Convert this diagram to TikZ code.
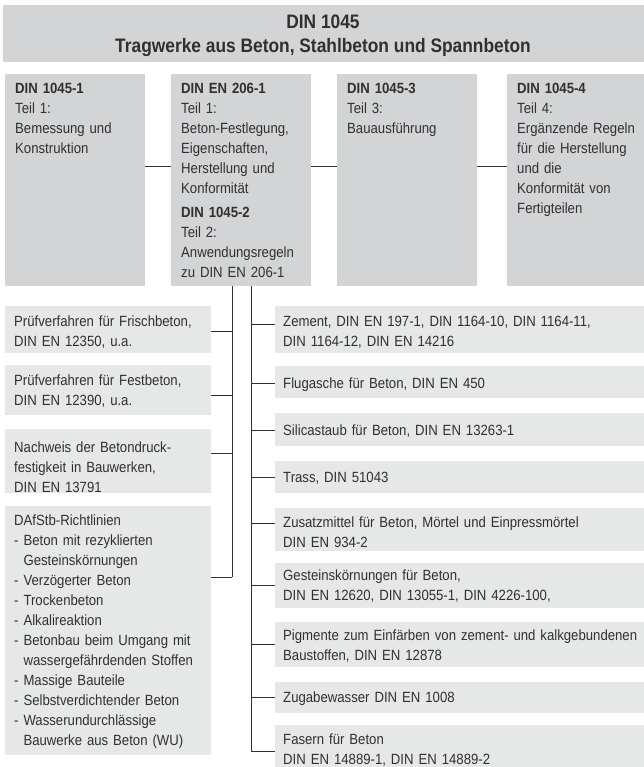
\documentclass[tikz,border=0pt]{standalone}
\usepackage{fontspec}
\setmainfont{Liberation Sans}[FakeStretch=0.89]
\definecolor{topgray}{HTML}{D3D4D6}
\definecolor{lowgray}{HTML}{E6E7E7}
\definecolor{ink}{HTML}{303030}
\begin{document}
\begin{tikzpicture}[x=1pt,y=-1pt,
  topbox/.style={fill=topgray,draw=none,inner sep=0,anchor=north west},
  lowbox/.style={fill=lowgray,draw=none,inner sep=0,anchor=north west},
  txt/.style={anchor=north west,inner sep=0,text width=360pt,align=left,text=ink,font=\fontsize{14.8}{20}\selectfont},
  conn/.style={draw=ink,line width=1pt}]
\useasboundingbox (0,0) rectangle (644,767);
% title
\node[topbox,minimum width=641,minimum height=57] (title) at (3,5) {};
\node[text=ink,align=center,font=\fontsize{19.5}{24.5}\selectfont\bfseries,inner sep=0] (titletxt) at (323,35.5) {\strut DIN 1045\\\strut Tragwerke aus Beton, Stahlbeton und Spannbeton};
% top boxes
\node[topbox,minimum width=140,minimum height=212] (b1) at (5,74) {};
\node[topbox,minimum width=140,minimum height=212] (b2) at (171,74) {};
\node[topbox,minimum width=140,minimum height=212] (b3) at (337,74) {};
\node[topbox,minimum width=137,minimum height=212] (b4) at (507,74) {};
\node[txt] (t1) at (15,79) {\strut\textbf{DIN 1045-1}\\Teil 1:\\Bemessung und\\Konstruktion};
\node[txt] (t2) at (181,79) {\strut\textbf{DIN EN 206-1}\\Teil 1:\\Beton-Festlegung,\\Eigenschaften,\\Herstellung und\\Konformität\\[4pt]\textbf{DIN 1045-2}\\Teil 2:\\Anwendungsregeln\\zu DIN EN 206-1};
\node[txt] (t3) at (347,79) {\strut\textbf{DIN 1045-3}\\Teil 3:\\Bauausführung};
\node[txt] (t4) at (517,79) {\strut\textbf{DIN 1045-4}\\Teil 4:\\Ergänzende Regeln\\für die Herstellung\\und die\\Konformität von\\Fertigteilen};
% left boxes
\node[lowbox,minimum width=206,minimum height=47] (L1) at (5,306) {};
\node[lowbox,minimum width=206,minimum height=50] (L2) at (5,365) {};
\node[lowbox,minimum width=206,minimum height=64] (L3) at (5,429) {};
\node[lowbox,minimum width=206,minimum height=249] (L4) at (5,506) {};
\node[txt] (tL1) at (14,312) {\strut Prüfverfahren für Frischbeton,\\DIN EN 12350, u.a.};
\node[txt] (tL2) at (14,371) {\strut Prüfverfahren für Festbeton,\\DIN EN 12390, u.a.};
\node[txt] (tL3) at (14,438) {\strut Nachweis der Betondruck-\\festigkeit in Bauwerken,\\DIN EN 13791};
\node[txt] (tL4) at (14,511) {\strut DAfStb-Richtlinien\\- Beton mit rezyklierten\\\hphantom{- }Gesteinskörnungen\\- Verzögerter Beton\\- Trockenbeton\\- Alkalireaktion\\- Betonbau beim Umgang mit\\\hphantom{- }wassergefährdenden Stoffen\\- Massige Bauteile\\- Selbstverdichtender Beton\\- Wasserundurchlässige\\\hphantom{- }Bauwerke aus Beton (WU)};
% right boxes
\node[lowbox,minimum width=369,minimum height=47] (R1) at (275,306) {};
\node[lowbox,minimum width=369,minimum height=32] (R2) at (275,366) {};
\node[lowbox,minimum width=369,minimum height=33] (R3) at (275,413) {};
\node[lowbox,minimum width=369,minimum height=32] (R4) at (275,461) {};
\node[lowbox,minimum width=369,minimum height=43] (R5) at (275,508) {};
\node[lowbox,minimum width=369,minimum height=45] (R6) at (275,563) {};
\node[lowbox,minimum width=369,minimum height=45] (R7) at (275,622) {};
\node[lowbox,minimum width=369,minimum height=31] (R8) at (275,682) {};
\node[lowbox,minimum width=369,minimum height=42] (R9) at (275,725) {};
\node[txt] (tR1) at (283,312) {\strut Zement, DIN EN 197-1, DIN 1164-10, DIN 1164-11,\\DIN 1164-12, DIN EN 14216};
\node[txt] (tR2) at (283,374) {\strut Flugasche für Beton, DIN EN 450};
\node[txt] (tR3) at (283,421) {\strut Silicastaub für Beton, DIN EN 13263-1};
\node[txt] (tR4) at (283,468) {\strut Trass, DIN 51043};
\node[txt] (tR5) at (283,513) {\strut Zusatzmittel für Beton, Mörtel und Einpressmörtel\\DIN EN 934-2};
\node[txt] (tR6) at (283,566) {\strut Gesteinskörnungen für Beton,\\DIN EN 12620, DIN 13055-1, DIN 4226-100,};
\node[txt] (tR7) at (283,626) {\strut Pigmente zum Einfärben von zement- und kalkgebundenen\\Baustoffen, DIN EN 12878};
\node[txt] (tR8) at (283,688) {\strut Zugabewasser DIN EN 1008};
\node[txt] (tR9) at (283,730) {\strut Fasern für Beton\\DIN EN 14889-1, DIN EN 14889-2};
% junction coordinates
\coordinate (htop) at (0,167);
\coordinate (jL1) at (232,331);
\coordinate (jL2) at (232,395);
\coordinate (jL3) at (232,453);
\coordinate (jL4) at (232,577);
\coordinate (jR1) at (251,324);
\coordinate (jR2) at (251,383);
\coordinate (jR3) at (251,430);
\coordinate (jR4) at (251,477);
\coordinate (jR5) at (251,523);
\coordinate (jR6) at (251,585);
\coordinate (jR7) at (251,644);
\coordinate (jR8) at (251,697);
\coordinate (jR9) at (251,751);
% connectors
\draw[conn] (b1.east |- htop) -- (b2.west |- htop);
\draw[conn] (b2.east |- htop) -- (b3.west |- htop);
\draw[conn] (b3.east |- htop) -- (b4.west |- htop);
\draw[conn] (b2.south -| jL1) -- (jL4);
\draw[conn] (b2.south -| jR1) -- (jR9);
\foreach \k in {1,2,3,4}{\draw[conn] (L\k.east |- jL\k) -- (jL\k);}
\foreach \k in {1,...,9}{\draw[conn] (jR\k) -- (R\k.west |- jR\k);}
\end{tikzpicture}
\end{document}
